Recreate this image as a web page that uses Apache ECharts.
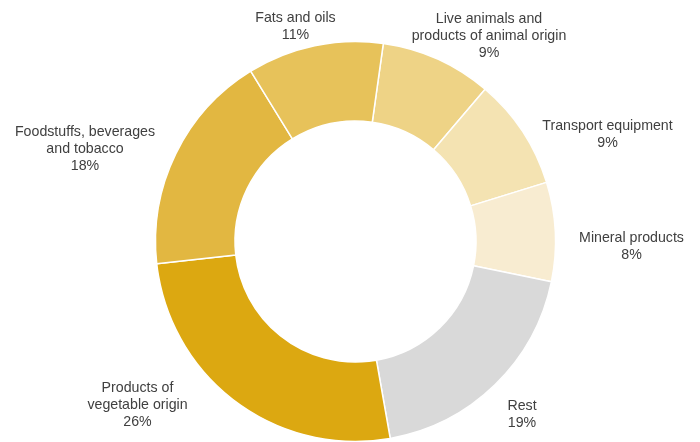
<!DOCTYPE html>
<html>
<head>
<meta charset="utf-8">
<script src="https://cdn.jsdelivr.net/npm/echarts@6/dist/echarts.min.js"></script>
<style>
html,body{margin:0;padding:0;background:#fff;}
#chart{width:700px;height:442px;}
</style>
</head>
<body>
<div id="chart"></div>
<script>
// Data (share of total, %), in clockwise order starting just right of the top
const categories = [
  'Live animals and\nproducts of animal origin',
  'Transport equipment',
  'Mineral products',
  'Rest',
  'Products of\nvegetable origin',
  'Foodstuffs, beverages\nand tobacco',
  'Fats and oils'
];
const values = [9, 9, 8, 19, 26, 18, 11];
const colors = ['#EED386', '#F4E3B2', '#F8ECD1', '#D9D9D9', '#DCA811', '#E2B741', '#E7C25A'];

// Label block centres (layout only, pixels in the 700x442 canvas)
const labelCentres = [
  [489, 36.5], [607.5, 134.5], [631.5, 247], [522, 414.5],
  [137.5, 405.5], [85, 149.5], [295.5, 26.5]
];

const chart = echarts.init(document.getElementById('chart'), null, {renderer: 'canvas'});
chart.setOption({
  animation: false,
  backgroundColor: '#ffffff',
  series: [{
    type: 'pie',
    center: [355.5, 241.5],
    radius: [120.5, 200],
    startAngle: 82,
    clockwise: true,
    avoidLabelOverlap: false,
    silent: true,
    itemStyle: {borderColor: '#ffffff', borderWidth: 1.5},
    label: {
      show: true,
      position: 'outside',
      formatter: '{b}\n{d}%',
      fontFamily: 'Liberation Sans, Arial, sans-serif',
      fontSize: 14.2,
      lineHeight: 17,
      color: '#404040'
    },
    labelLine: {show: false},
    labelLayout: function (p) {
      const c = labelCentres[p.dataIndex];
      return {x: c[0], y: c[1], align: 'center', verticalAlign: 'middle'};
    },
    emphasis: {disabled: true},
    data: categories.map((n, i) => ({name: n, value: values[i], itemStyle: {color: colors[i]}}))
  }]
});
</script>
</body>
</html>
